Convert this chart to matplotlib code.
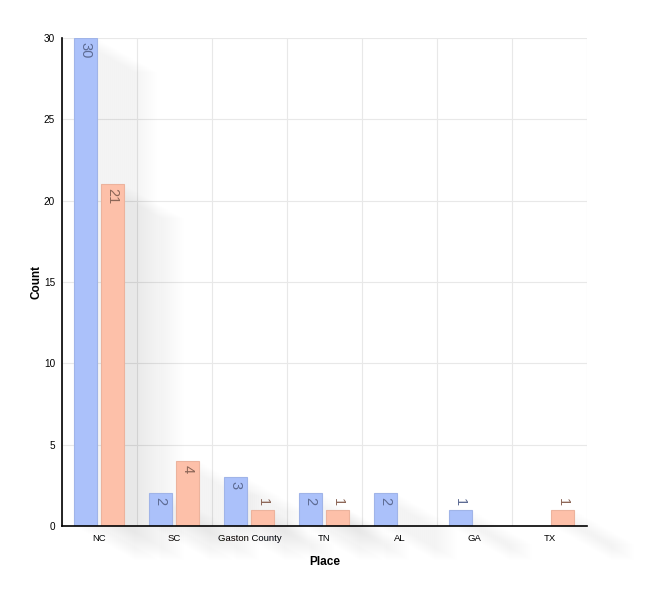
import matplotlib
matplotlib.use("Agg")
import matplotlib.pyplot as plt
import matplotlib.transforms as mtransforms
import numpy as np

plt.rcParams['font.family'] = ['Liberation Sans', 'DejaVu Sans']

places = ["NC", "SC", "Gaston County", "TN", "AL", "GA", "TX"]
series_a = [30, 2, 3, 2, 2, 1, None]
series_b = [21, 4, 1, 1, None, None, 1]
y_ticks = [0, 5, 10, 15, 20, 25, 30]

colors = ["#abc1fa", "#fdc0a9"]
edges = ["#a0b4e8", "#ecb39d"]
shadow_cols = ["#34488e", "#7a4a34"]
label_cols = ["#5d6b93", "#8c6657"]

fig = plt.figure(figsize=(6.5, 6.01), dpi=100)
ax = fig.add_axes([62/650, 75/601, 525/650, 488/601])

x = np.arange(len(places))
offsets = [-0.193, 0.173]
width = 0.307

# shadows
nsteps = 30
dx_tot, dy_tot = 60.0, -34.0
for si, vals in enumerate([series_a, series_b]):
    for i, v in enumerate(vals):
        if v is None:
            continue
        for k in range(1, nsteps + 1):
            f = k / nsteps
            tr = ax.transData + mtransforms.Affine2D().translate(dx_tot * f, dy_tot * f)
            r = plt.Rectangle((x[i] + offsets[si] - width/2, 0), width, v,
                              transform=tr, facecolor=shadow_cols[si], edgecolor="none",
                              alpha=0.004, clip_on=False, zorder=1)
            ax.add_patch(r)

for si, vals in enumerate([series_a, series_b]):
    for i, v in enumerate(vals):
        if v is None:
            continue
        ax.bar(x[i] + offsets[si], v, width=width, color=colors[si],
               edgecolor=edges[si], linewidth=0.8, zorder=3)
        px_h = v * 488 / 30
        if px_h > 24:
            tr = ax.transData + mtransforms.Affine2D().translate(0, -4)
            ax.text(x[i] + offsets[si], v, str(v), rotation=-90, ha="center", va="top",
                    fontsize=10.5, color=label_cols[si], transform=tr, zorder=4)
        else:
            tr = ax.transData + mtransforms.Affine2D().translate(0, 4)
            ax.text(x[i] + offsets[si], v, str(v), rotation=-90, ha="center", va="bottom",
                    fontsize=10.5, color=label_cols[si], transform=tr, zorder=4)

ax.set_xlim(-0.5, len(places) - 0.5)
ax.set_ylim(0, 30)
ax.set_yticks(y_ticks)
ax.set_xticks(x)
ax.set_xticklabels(places, fontsize=6.8)
ax.tick_params(axis="y", labelsize=7.2, length=0, pad=5)
ax.tick_params(axis="x", length=0, pad=6)
ax.set_xticks(np.arange(len(places) + 1) - 0.5, minor=True)
ax.tick_params(axis="x", which="minor", length=0)
ax.grid(axis="y", color="#e8e8e8", linewidth=0.8, zorder=0)
ax.grid(axis="x", which="minor", color="#e8e8e8", linewidth=0.8, zorder=0)
ax.set_axisbelow(True)
for s in ["top", "right"]:
    ax.spines[s].set_visible(False)
for s in ["left", "bottom"]:
    ax.spines[s].set_color("black")
    ax.spines[s].set_linewidth(1.2)
    ax.spines[s].set_zorder(5)

ax.set_ylabel("Count", fontsize=8.5, fontweight="bold")
ax.set_xlabel("Place", fontsize=8.5, fontweight="bold")
ax.yaxis.set_label_coords(-26/525, 0.5)
ax.xaxis.set_label_coords(0.5, -36/488)
ax.yaxis.label.set_va("center")
ax.xaxis.label.set_va("center")

fig.savefig("out.png", dpi=100)
